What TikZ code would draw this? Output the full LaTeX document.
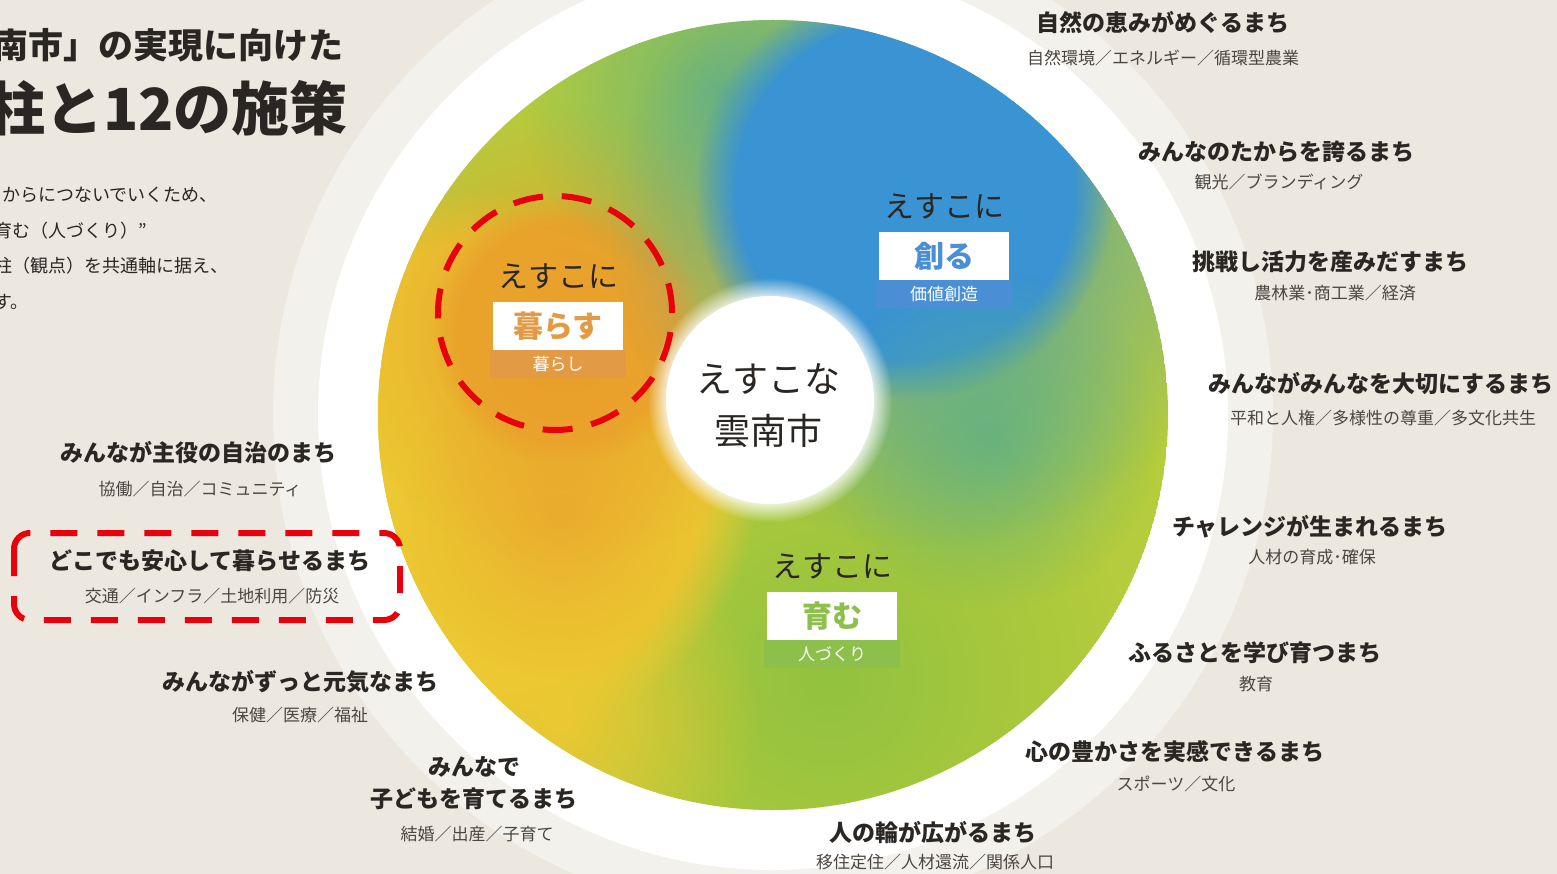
\documentclass[tikz,border=0pt]{standalone}
\usepackage{fontspec}
\setmainfont{Noto Sans CJK JP}
\usetikzlibrary{positioning,fadings}
\definecolor{bg}{HTML}{ECE8E0}
\definecolor{halo}{HTML}{F3F1EC}
\definecolor{ink}{HTML}{2A2623}
\definecolor{inksub}{HTML}{4B4642}
\definecolor{mark}{HTML}{E8000B}
\definecolor{kurasu}{HTML}{E39A45}
\definecolor{tsukuru}{HTML}{4A8FD6}
\definecolor{hagukumu}{HTML}{8DC04B}
\definecolor{paintbase}{HTML}{B5CC3C}
\definecolor{paintblue}{HTML}{3A93D2}
\definecolor{paintteal}{HTML}{55AE8A}
\definecolor{paintyel}{HTML}{ECC832}
\definecolor{paintorg}{HTML}{E9A02B}
\definecolor{paintgrn}{HTML}{92C23F}
\tikzfading[name=soft,inner color=transparent!0,outer color=transparent!100]
\begin{document}
\begin{tikzpicture}[x=1pt,y=-1pt,
  head/.style={font=\fontsize{35}{40}\selectfont\bfseries,text=ink,inner sep=0},
  bighead/.style={font=\fontsize{58}{64}\selectfont\bfseries,text=ink,inner sep=0},
  body/.style={font=\fontsize{18}{22}\selectfont,text=ink,inner sep=0,anchor=west},
  lbl/.style={font=\fontsize{23}{32}\selectfont\bfseries,text=ink,inner sep=0,align=center},
  sub/.style={font=\fontsize{17}{20}\selectfont,text=inksub,inner sep=0},
  esu/.style={font=\fontsize{30}{34}\selectfont,text=ink,inner sep=0},
  pillar/.style={fill=white,minimum width=130pt,minimum height=48pt,inner sep=0,font=\fontsize{30}{34}\selectfont\bfseries},
  strip/.style={minimum width=136pt,minimum height=28pt,inner sep=0,text=white,font=\fontsize{17}{20}\selectfont},
  reddash/.style={draw=mark,line width=6pt,dash pattern=on 30pt off 19pt},
  blob/.style={path fading=circle with fuzzy edge 20 percent},
  haze/.style={path fading=soft}]
\useasboundingbox (0,0) rectangle (1557,874);
\clip (0,0) rectangle (1557,874);
\fill[bg] (0,0) rectangle (1557,874);
\fill[halo] (773,415) circle (500pt);
\fill[white] (773,415) circle (455pt);
\begin{scope}
\clip (773,415) circle (395pt);
\fill[paintbase] (773,415) circle (395pt);
\fill[paintgrn,haze] (830,680) circle (300pt);
\fill[paintyel,blob] (480,470) circle (280pt);
\fill[paintyel,haze] (560,720) circle (200pt);
\fill[paintorg,haze] (565,335) circle (230pt);
\fill[paintorg,opacity=.8,blob] (565,330) circle (135pt);
\fill[paintorg,opacity=.6,haze] (560,520) circle (160pt);
\fill[paintteal,opacity=.7,haze] (720,90) circle (200pt);
\fill[paintblue,opacity=.8,haze] (930,230) circle (320pt);
\fill[paintblue,blob] (905,190) circle (210pt);
\fill[paintteal,opacity=.7,haze] (990,440) circle (170pt);
\end{scope}
\fill[white,blob] (770,400) circle (122pt);
\fill[white] (770,400) circle (104pt);
\node[font=\fontsize{36}{52}\selectfont,text=ink,align=center] (core) at (768,406) {えすこな\\雲南市};

\node[pillar,text=kurasu] (kurasu) at (558,326) {暮らす};
\node[strip,fill=kurasu,below=0pt of kurasu] (kurasu-s) {暮らし};
\node[esu,above=12pt of kurasu] (kurasu-e) {えすこに};
\node[pillar,text=tsukuru] (tsukuru) at (944,256) {創る};
\node[strip,fill=tsukuru,below=0pt of tsukuru] (tsukuru-s) {価値創造};
\node[esu,above=12pt of tsukuru] (tsukuru-e) {えすこに};
\node[pillar,text=hagukumu] (hagukumu) at (832,616) {育む};
\node[strip,fill=hagukumu,below=0pt of hagukumu] (hagukumu-s) {人づくり};
\node[esu,above=12pt of hagukumu] (hagukumu-e) {えすこに};
\draw[reddash] (555,313) circle (117pt);

\node[head,anchor=east] (head1) at (344,45) {南市」の実現に向けた};
\node[bighead,anchor=east] (head2) at (348,108) {柱と12の施策};
\node[body] (body1) at (2,195) {からにつないでいくため、};
\node[body] (body2) at (-6,231) {育む（人づくり）”};
\node[body] (body3) at (-6,266) {柱（観点）を共通軸に据え、};
\node[body] (body4) at (-6,302) {す。};

\node[lbl] (shizen) at (1163,23) {自然の恵みがめぐるまち};
\node[sub] (shizen-s) at (1163,58) {自然環境／エネルギー／循環型農業};
\node[lbl] (takara) at (1276,152) {みんなのたからを誇るまち};
\node[sub] (takara-s) at (1279,182) {観光／ブランディング};
\node[lbl] (katsuryoku) at (1330,262) {挑戦し活力を産みだすまち};
\node[sub] (katsuryoku-s) at (1335,293) {農林業･商工業／経済};
\node[lbl] (taisetsu) at (1381,384) {みんながみんなを大切にするまち};
\node[sub] (taisetsu-s) at (1383,418) {平和と人権／多様性の尊重／多文化共生};
\node[lbl] (challenge) at (1310,527) {チャレンジが生まれるまち};
\node[sub] (challenge-s) at (1312,557) {人材の育成･確保};
\node[lbl] (furusato) at (1255,653) {ふるさとを学び育つまち};
\node[sub] (furusato-s) at (1256,684) {教育};
\node[lbl] (kokoro) at (1175,752) {心の豊かさを実感できるまち};
\node[sub] (kokoro-s) at (1176,784) {スポーツ／文化};
\node[lbl] (hitonowa) at (933,833) {人の輪が広がるまち};
\node[sub] (hitonowa-s) at (935,862) {移住定住／人材還流／関係人口};
\node[lbl] (jichi) at (198,453) {みんなが主役の自治のまち};
\node[sub] (jichi-s) at (200,489) {協働／自治／コミュニティ};
\node[lbl] (anshin) at (210,561) {どこでも安心して暮らせるまち};
\node[sub] (anshin-s) at (212,596) {交通／インフラ／土地利用／防災};
\node[lbl] (genki) at (300,682) {みんながずっと元気なまち};
\node[sub] (genki-s) at (300,715) {保健／医療／福祉};
\node[lbl] (kosodate) at (474,783) {みんなで\\子どもを育てるまち};
\node[sub] (kosodate-s) at (477,834) {結婚／出産／子育て};
\draw[reddash,dash pattern=on 27pt off 20pt,rounded corners=16pt] (14,533) rectangle (400,620);
\end{tikzpicture}
\end{document}
